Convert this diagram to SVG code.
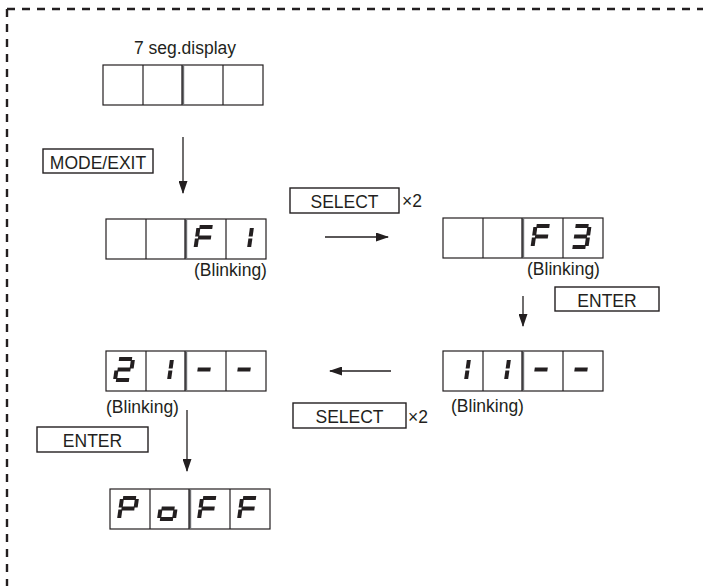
<svg xmlns="http://www.w3.org/2000/svg" xmlns:xlink="http://www.w3.org/1999/xlink" width="703" height="586" viewBox="0 0 703 586">
<style>
.frame{fill:#fff;stroke:#231f20;stroke-width:1.2}
.div{stroke:#231f20;stroke-width:1.2}
.mid{stroke:#6d6e71;stroke-width:2.4}
.btn{fill:#fff;stroke:#231f20;stroke-width:1.4}
.t{font-family:"Liberation Sans",Arial,sans-serif;font-size:17.5px;fill:#231f20}
.c{text-anchor:middle}
.seg{stroke:#231f20;stroke-width:4;fill:none}
.conn{stroke:#231f20;stroke-width:1.3;fill:none}
.border{stroke:#231f20;stroke-width:2.4;fill:none;stroke-dasharray:8 7}
</style>
<defs>
<marker id="ah" markerWidth="13" markerHeight="9" refX="12" refY="4.5" orient="auto" markerUnits="userSpaceOnUse">
<path d="M0,0 L13,4.5 L0,9 Z" fill="#231f20"/>
</marker>
<g id="cells">
<rect class="frame" x="0" y="0" width="160" height="40"/>
<line class="div" x1="40" y1="0" x2="40" y2="40"/>
<line class="mid" x1="80" y1="0" x2="80" y2="40"/>
<line class="div" x1="79" y1="0" x2="79" y2="40"/>
<line class="div" x1="120" y1="0" x2="120" y2="40"/>
</g>
<line id="sa" class="seg" x1="1" y1="0" x2="14" y2="0"/>
<line id="sb" class="seg" x1="15" y1="1" x2="15" y2="9.6"/>
<line id="sc" class="seg" x1="15" y1="11.4" x2="15" y2="20"/>
<line id="sd" class="seg" x1="1" y1="21" x2="14" y2="21"/>
<line id="se" class="seg" x1="0" y1="11.4" x2="0" y2="20"/>
<line id="sf" class="seg" x1="0" y1="1" x2="0" y2="9.6"/>
<line id="sg" class="seg" x1="1" y1="10.5" x2="14" y2="10.5"/>
<g id="chF" transform="skewX(-8)"><use xlink:href="#sa"/><use xlink:href="#sf"/><use xlink:href="#sg"/><use xlink:href="#se"/></g>
<g id="ch1" transform="skewX(-8)"><use xlink:href="#sb"/><use xlink:href="#sc"/></g>
<g id="ch3" transform="skewX(-8)"><use xlink:href="#sa"/><use xlink:href="#sb"/><use xlink:href="#sg"/><use xlink:href="#sc"/><use xlink:href="#sd"/></g>
<g id="ch2" transform="skewX(-8)"><use xlink:href="#sa"/><use xlink:href="#sb"/><use xlink:href="#sg"/><use xlink:href="#se"/><use xlink:href="#sd"/></g>
<g id="chDash" transform="skewX(-8)"><use xlink:href="#sg"/></g>
<g id="chP" transform="skewX(-8)"><use xlink:href="#sa"/><use xlink:href="#sb"/><use xlink:href="#sg"/><use xlink:href="#sf"/><use xlink:href="#se"/></g>
<g id="cho" transform="skewX(-8)"><use xlink:href="#sg"/><use xlink:href="#sc"/><use xlink:href="#sd"/><use xlink:href="#se"/></g>
</defs>

<g id="border">
<path class="border" d="M7,9 H703"/>
<path class="border" d="M7,9 V586"/>
</g>

<g id="display-blank">
<text class="t c" x="185" y="54">7 seg.display</text>
<use xlink:href="#cells" transform="translate(103,65)"/>
</g>

<g id="btn-mode">
<rect class="btn" x="43" y="149" width="110" height="24"/>
<text class="t c" x="98" y="168.5">MODE/EXIT</text>
</g>

<g id="display-f1">
<use xlink:href="#cells" transform="translate(106,219)"/>
<use xlink:href="#chF" transform="translate(198.5,227)"/>
<use xlink:href="#ch1" transform="translate(237,227)"/>
<text class="t" x="194" y="276">(Blinking)</text>
</g>

<g id="btn-select1">
<rect class="btn" x="290" y="188" width="109" height="25"/>
<text class="t c" x="344.5" y="207.5">SELECT</text>
<text class="t" x="402" y="207">×2</text>
</g>

<g id="display-f3">
<use xlink:href="#cells" transform="translate(443,218)"/>
<use xlink:href="#chF" transform="translate(535.5,226)"/>
<use xlink:href="#ch3" transform="translate(574.5,226)"/>
<text class="t" x="527" y="275">(Blinking)</text>
</g>

<g id="btn-enter1">
<rect class="btn" x="555" y="287" width="104" height="24"/>
<text class="t c" x="607" y="307">ENTER</text>
</g>

<g id="display-11">
<use xlink:href="#cells" transform="translate(443,351)"/>
<use xlink:href="#ch1" transform="translate(454,359)"/>
<use xlink:href="#ch1" transform="translate(494,359)"/>
<use xlink:href="#chDash" transform="translate(535,359)"/>
<use xlink:href="#chDash" transform="translate(575,359)"/>
<text class="t" x="451" y="412">(Blinking)</text>
</g>

<g id="btn-select2">
<rect class="btn" x="293" y="403" width="113" height="25"/>
<text class="t c" x="349.5" y="422.5">SELECT</text>
<text class="t" x="408" y="422.5">×2</text>
</g>

<g id="display-21">
<use xlink:href="#cells" transform="translate(106,351)"/>
<use xlink:href="#ch2" transform="translate(118,359)"/>
<use xlink:href="#ch1" transform="translate(157,359)"/>
<use xlink:href="#chDash" transform="translate(198,359)"/>
<use xlink:href="#chDash" transform="translate(238,359)"/>
<text class="t" x="106" y="413">(Blinking)</text>
</g>

<g id="btn-enter2">
<rect class="btn" x="37" y="427" width="111" height="25"/>
<text class="t c" x="92.5" y="447">ENTER</text>
</g>

<g id="display-poff">
<use xlink:href="#cells" transform="translate(110,489)"/>
<use xlink:href="#chP" transform="translate(122,498)"/>
<use xlink:href="#cho" transform="translate(162,498)"/>
<use xlink:href="#chF" transform="translate(202,498)"/>
<use xlink:href="#chF" transform="translate(242,498)"/>
</g>

<g id="connectors">
<line class="conn" x1="183" y1="137" x2="183" y2="193" marker-end="url(#ah)"/>
<line class="conn" x1="325" y1="237" x2="388" y2="237" marker-end="url(#ah)"/>
<line class="conn" x1="523" y1="296" x2="523" y2="326" marker-end="url(#ah)"/>
<line class="conn" x1="391" y1="371" x2="330" y2="371" marker-end="url(#ah)"/>
<line class="conn" x1="187" y1="410" x2="187" y2="471" marker-end="url(#ah)"/>
</g>
</svg>
